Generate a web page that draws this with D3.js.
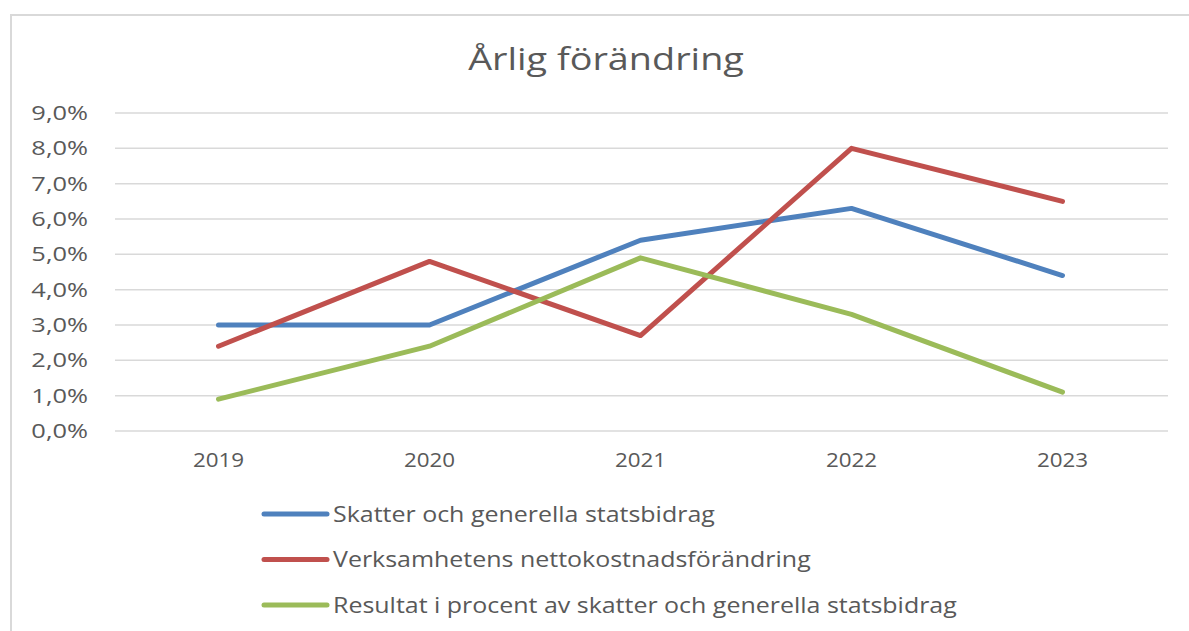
<!DOCTYPE html>
<meta charset="utf-8">
<script src="https://d3js.org/d3.v7.min.js"></script>
<style>
  body { margin: 0; background: #fff; }
  text { font-family: "Open Sans", "Noto Sans", sans-serif; fill: #595959; }
</style>
<div id="chart"></div>
<script>
  // data
  var years = ["2019", "2020", "2021", "2022", "2023"];
  var skatter = [3.0, 3.0, 5.4, 6.3, 4.4];
  var verksamhet = [2.4, 4.8, 2.7, 8.0, 6.5];
  var resultat = [0.9, 2.4, 4.9, 3.3, 1.1];
  var seriesNames = [
    "Skatter och generella statsbidrag",
    "Verksamhetens nettokostnadsförändring",
    "Resultat i procent av skatter och generella statsbidrag"
  ];
  var yTicks = [0, 1, 2, 3, 4, 5, 6, 7, 8, 9];

  var series = [
    {name: seriesNames[0], values: skatter, color: "#4f81bd"},
    {name: seriesNames[1], values: verksamhet, color: "#c0504d"},
    {name: seriesNames[2], values: resultat, color: "#9bbb59"}
  ];

  var W = 1189, H = 631;
  var svg = d3.select("#chart").append("svg")
      .attr("width", W).attr("height", H);

  // chart border
  svg.append("rect")
      .attr("x", 11).attr("y", 15)
      .attr("width", W + 20).attr("height", H + 20)
      .attr("fill", "none")
      .attr("stroke", "#d9d9d9")
      .attr("stroke-width", 2);

  // title (the original font is wider, so stretch a little)
  svg.append("text")
      .attr("transform", "translate(606,70) scale(1.22,1)")
      .attr("text-anchor", "middle")
      .style("font-size", "31px")
      .text("Årlig förändring");

  var x = d3.scaleBand().domain(years).range([113, 1168]);
  var y = d3.scaleLinear().domain([0, 9]).range([431, 113]);

  // gridlines
  svg.append("g")
      .selectAll("line")
      .data(yTicks)
      .enter()
      .append("line")
      .attr("x1", 115).attr("x2", 1168)
      .attr("y1", function(d) { return y(d); })
      .attr("y2", function(d) { return y(d); })
      .attr("stroke", "#d9d9d9")
      .attr("stroke-width", 1.5);

  // y axis
  var yAxis = svg.append("g")
      .attr("transform", "translate(88,0)")
      .call(d3.axisLeft(y).tickValues(yTicks).tickSize(0).tickPadding(0)
          .tickFormat(function(d) { return d.toFixed(1).replace(".", ",") + "%"; }));
  yAxis.select(".domain").remove();
  yAxis.selectAll("text")
      .style("font-size", "20px")
      .attr("fill", "#595959")
      .attr("transform", "scale(1.27,1)");

  // x axis
  var xAxis = svg.append("g")
      .attr("transform", "translate(0,431)")
      .call(d3.axisBottom(x).tickSize(0).tickPadding(22));
  xAxis.select(".domain").remove();
  xAxis.selectAll("text")
      .style("font-size", "20px")
      .attr("fill", "#595959")
      .attr("transform", "scale(1.12,1)");

  var line = d3.line()
      .x(function(d, i) { return x(years[i]) + x.bandwidth() / 2; })
      .y(function(d) { return y(d); });

  svg.append("g")
      .selectAll("path")
      .data(series)
      .enter()
      .append("path")
      .attr("d", function(d) { return line(d.values); })
      .attr("fill", "none")
      .attr("stroke", function(d) { return d.color; })
      .attr("stroke-width", 5)
      .attr("stroke-linecap", "round")
      .attr("stroke-linejoin", "round");

  // legend
  var legend = svg.append("g")
      .selectAll("g")
      .data(series)
      .enter()
      .append("g")
      .attr("transform", function(d, i) { return "translate(0," + (514 + i * 45.5) + ")"; });
  legend.append("line")
      .attr("x1", 264).attr("x2", 327)
      .attr("stroke", function(d) { return d.color; })
      .attr("stroke-width", 5)
      .attr("stroke-linecap", "round");
  legend.append("text")
      .attr("transform", "translate(333,0) scale(1.135,1)")
      .attr("dy", "0.35em")
      .style("font-size", "22px")
      .text(function(d) { return d.name; });
</script>
